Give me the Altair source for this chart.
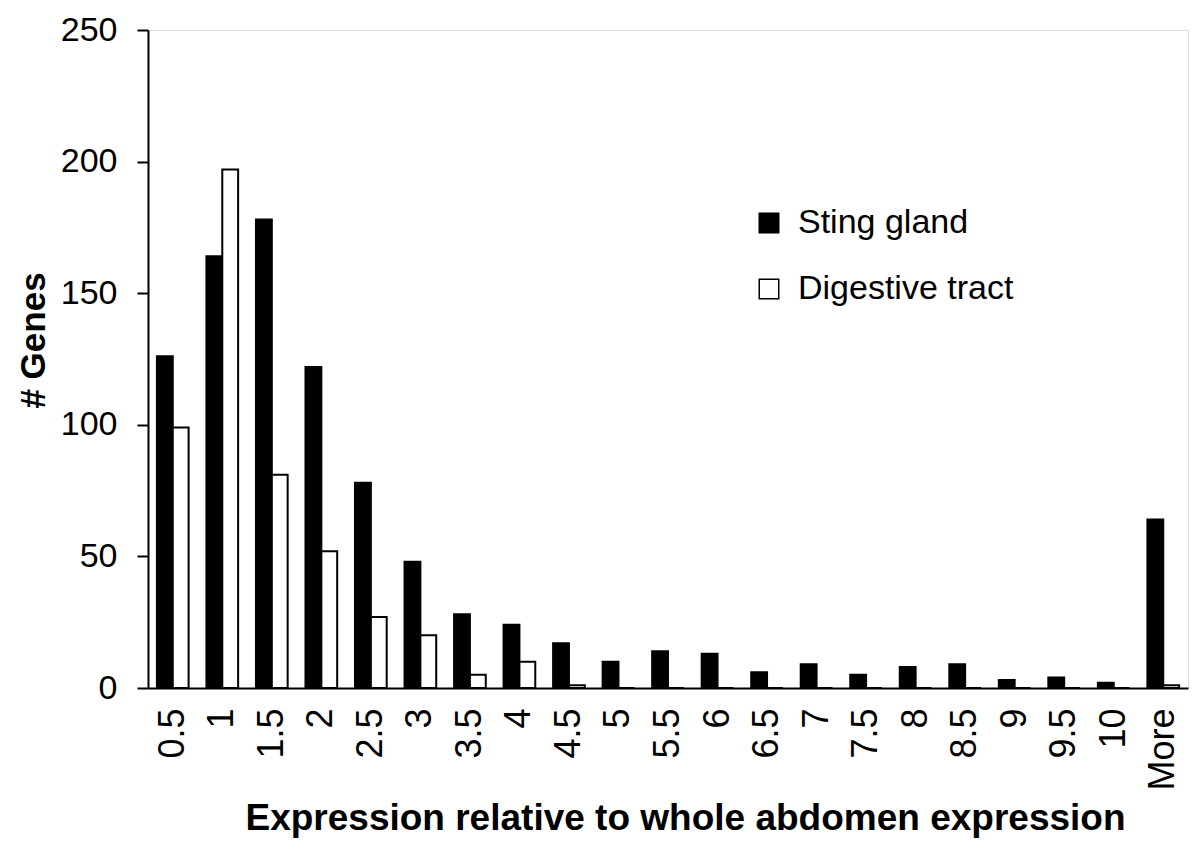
import altair as alt
import pandas as pd

categories = ["0.5", "1", "1.5", "2", "2.5", "3", "3.5", "4", "4.5", "5", "5.5",
              "6", "6.5", "7", "7.5", "8", "8.5", "9", "9.5", "10", "More"]
sting_gland = [126, 164, 178, 122, 78, 48, 28, 24, 17, 10, 14,
               13, 6, 9, 5, 8, 9, 3, 4, 2, 64]
digestive_tract = [99, 197, 81, 52, 27, 20, 5, 10, 1, 0, 0,
                   0, 0, 0, 0, 0, 0, 0, 0, 0, 1]
series = ["Sting gland", "Digestive tract"]

rows = []
for c, s, d in zip(categories, sting_gland, digestive_tract):
    rows.append({"bin": c, "series": series[0], "genes": s})
    rows.append({"bin": c, "series": series[1], "genes": d})
df = pd.DataFrame(rows)

FONT = "Liberation Sans"

chart = alt.Chart(df).mark_bar(stroke="black", strokeWidth=2).encode(
    x=alt.X("bin:N", sort=categories,
            scale=alt.Scale(paddingInner=0.36, paddingOuter=0.18),
            axis=alt.Axis(title="Expression relative to whole abdomen expression",
                          labelAngle=-90, labelFontSize=36, labelFont=FONT,
                          labelColor="black", labelPadding=20,
                          ticks=False, domainColor="black", domainWidth=2,
                          titleFont=FONT, titleFontSize=37, titleFontWeight="bold",
                          titleColor="black", titleX=537, titleY=141,
                          titleBaseline="alphabetic")),
    xOffset=alt.XOffset("series:N", sort=series),
    y=alt.Y("genes:Q", scale=alt.Scale(domain=[0, 250], nice=False),
            axis=alt.Axis(title="# Genes", values=[0, 50, 100, 150, 200, 250],
                          grid=False, labelFontSize=34, labelFont=FONT,
                          labelColor="black", labelPadding=20,
                          tickSize=11, tickWidth=2, tickColor="black",
                          domainColor="black", domainWidth=2,
                          titleFont=FONT, titleFontSize=35, titleFontWeight="bold",
                          titleColor="black", titleX=-104, titleY=310,
                          titleBaseline="alphabetic")),
    color=alt.Color("series:N", sort=series,
                    scale=alt.Scale(domain=series, range=["black", "white"]),
                    legend=alt.Legend(title=None, orient="none", legendX=604,
                                      legendY=176, symbolType="square",
                                      symbolSize=380, symbolStrokeColor="black",
                                      symbolStrokeWidth=1.5, labelFontSize=34,
                                      labelFont=FONT, labelColor="black",
                                      labelOffset=12, rowPadding=32, padding=0,
                                      labelLimit=400)),
).properties(
    width=1040,
    height=658,
    padding={"left": 140, "top": 22, "right": 2, "bottom": 152},
    autosize=alt.AutoSizeParams(type="none"),
).configure_view(stroke=None).configure(background="white")

chart.save("out.html", embed_options={"renderer": "svg", "actions": False})
